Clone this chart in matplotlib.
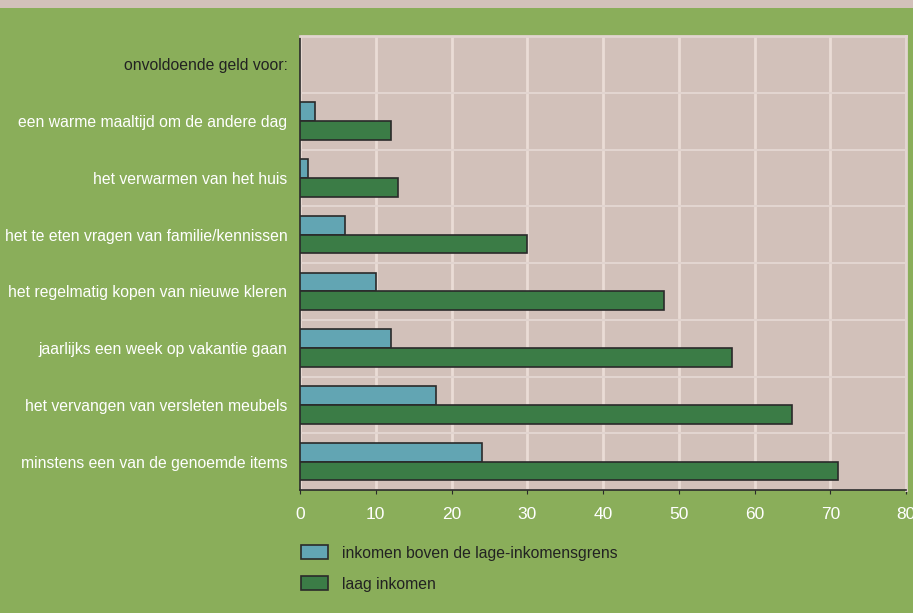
import matplotlib
matplotlib.use('Agg')
import matplotlib.pyplot as plt
from matplotlib.patches import Rectangle
import numpy as np

# Data (percentages)
categories = [
    'onvoldoende geld voor:',
    'een warme maaltijd om de andere dag',
    'het verwarmen van het huis',
    'het te eten vragen van familie/kennissen',
    'het regelmatig kopen van nieuwe kleren',
    'jaarlijks een week op vakantie gaan',
    'het vervangen van versleten meubels',
    'minstens een van de genoemde items',
]
boven_grens = [2, 1, 6, 10, 12, 18, 24]
laag_inkomen = [12, 13, 30, 48, 57, 65, 71]
series_labels = ['inkomen boven de lage-inkomensgrens', 'laag inkomen']
xticks = [0, 10, 20, 30, 40, 50, 60, 70, 80]

bg_green = '#8aae5a'
plot_bg = '#d2c1ba'
teal = '#62a5b3'
dgreen = '#3b7c46'
edge = '#2a2a2a'

plt.rcParams['font.family'] = ['Liberation Sans', 'DejaVu Sans']

fig = plt.figure(figsize=(9.13, 6.13), dpi=100, facecolor=bg_green)
# top band
fig.patches.append(Rectangle((0, 1 - 8 / 613), 1, 8 / 613, transform=fig.transFigure,
                             facecolor=plot_bg, edgecolor='none', zorder=0))

ax = fig.add_axes([300 / 913, 1 - 490 / 613, 606 / 913, 454 / 613])
ax.set_facecolor(plot_bg)

y = np.arange(1, len(categories))
h = 0.33
ax.barh(y - h / 2, boven_grens, height=h, color=teal, edgecolor=edge, linewidth=1.2,
        label=series_labels[0], zorder=3)
ax.barh(y + h / 2, laag_inkomen, height=h, color=dgreen, edgecolor=edge, linewidth=1.2,
        label=series_labels[1], zorder=3)

ax.set_ylim(len(categories) - 0.5, -0.5)
ax.set_xlim(0, 80)
ax.set_xticks(xticks)
ax.set_xticklabels([str(t) for t in xticks], color='white', fontsize=12.5)
ax.set_yticks(range(len(categories)))
ax.set_yticklabels(categories, fontsize=11.3)
for i, lab in enumerate(ax.get_yticklabels()):
    lab.set_color('#222222' if i == 0 else 'white')
ax.set_yticks(np.arange(-0.5, len(categories), 1), minor=True)
ax.tick_params(axis='y', which='both', length=0, pad=9)
ax.tick_params(axis='x', length=3, color=edge, pad=9)

ax.grid(axis='x', color='#eadcd6', linewidth=2, zorder=1)
ax.grid(axis='y', which='minor', color='#e2d5d0', linewidth=1.5, zorder=1)
ax.set_axisbelow(True)

ax.spines['left'].set_color(edge)
ax.spines['bottom'].set_color(edge)
ax.spines['left'].set_linewidth(1.2)
ax.spines['bottom'].set_linewidth(1.2)
ax.spines['top'].set_color('#e2d5d0')
ax.spines['right'].set_color('#e2d5d0')
ax.spines['top'].set_linewidth(2)
ax.spines['right'].set_linewidth(2)

leg = fig.legend(loc='upper left', bbox_to_anchor=(287 / 913, 1 - 531 / 613),
                 frameon=False, fontsize=11.3, handlelength=1.7, handleheight=1.0,
                 labelspacing=1.0, handletextpad=0.9)
for t in leg.get_texts():
    t.set_color('#222222')

fig.savefig('out.png', dpi=100, facecolor=bg_green)
